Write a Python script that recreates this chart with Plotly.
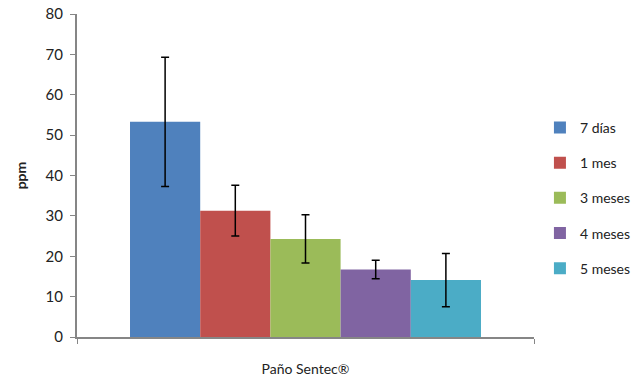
import plotly.graph_objects as go

category = ["Paño Sentec®"]
series = ["7 días", "1 mes", "3 meses", "4 meses", "5 meses"]
values = [53.3, 31.3, 24.3, 16.7, 14.1]
errors = [16.0, 6.3, 6.0, 2.3, 6.6]
colors = ["#4F81BD", "#C0504D", "#9BBB59", "#8064A2", "#4BACC6"]

fig = go.Figure()
for i, (name, v, e, c) in enumerate(zip(series, values, errors, colors)):
    fig.add_trace(go.Bar(
        x=category, y=[v], name=name, marker=dict(color=c, line=dict(width=0)),
        error_y=dict(type="data", array=[e], visible=True, color="black",
                     thickness=1.5, width=4),
        legendgroup=f"g{i}",
    ))

font_family = "Lato, Liberation Sans, sans-serif"
fig.update_layout(
    width=641, height=380,
    margin=dict(l=77, r=107, t=14, b=43, autoexpand=False),
    paper_bgcolor="white", plot_bgcolor="white",
    barmode="group", bargap=0.232, bargroupgap=0,
    font=dict(family=font_family, size=14, color="#222222"),
    showlegend=True,
    legend=dict(x=1.013, xanchor="left", y=0.697, yanchor="top",
                tracegroupgap=14, itemwidth=30,
                font=dict(family=font_family, size=14, color="#222222"),
                bgcolor="rgba(0,0,0,0)"),
    xaxis=dict(showline=True, linecolor="#868686", linewidth=2,
               ticks="outside", tickson="boundaries", ticklen=5, tickcolor="#868686",
               tickfont=dict(size=14), ticklabelstandoff=18, showgrid=False),
    yaxis=dict(range=[0, 80], dtick=10, showline=True, linecolor="#868686", linewidth=2,
               ticks="outside", ticklen=5, tickcolor="#868686", showgrid=False,
               zeroline=False, tickfont=dict(size=15), ticklabelstandoff=4,
               ticklabeloverflow="allow",
               title=dict(text="<b>ppm</b>", font=dict(size=14), standoff=16)),
)

fig.write_html("out.html", config={"displayModeBar": False},
               post_script="document.body.style.margin='0';")
